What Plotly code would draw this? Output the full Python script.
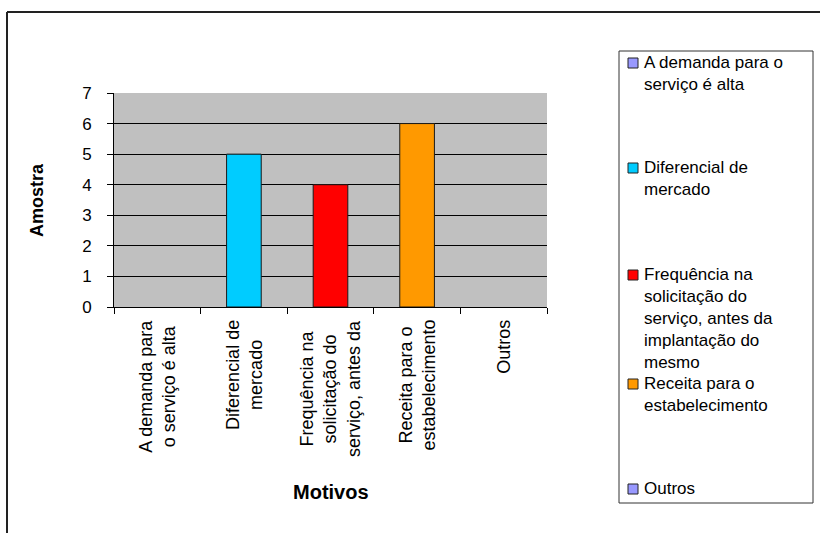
import plotly.graph_objects as go

# Survey answers: reasons and how many respondents chose each
categorias = [
    "A demanda para o serviço é alta",
    "Diferencial de mercado",
    "Frequência na solicitação do serviço, antes da implantação do mesmo",
    "Receita para o estabelecimento",
    "Outros",
]
amostra = [0, 5, 4, 6, 0]
cores = ["#9999FF", "#00CCFF", "#FF0000", "#FF9900", "#9999FF"]

# Wrapped text used under the axis and in the legend box
rotulos_eixo = [
    "A demanda para<br>o serviço é alta",
    "Diferencial de<br>mercado",
    "Frequência na<br>solicitação do<br>serviço, antes da",
    "Receita para o<br>estabelecimento",
    "Outros",
]
rotulos_legenda = [
    "A demanda para o<br>serviço é alta",
    "Diferencial de<br>mercado",
    "Frequência na<br>solicitação do<br>serviço, antes da<br>implantação do<br>mesmo",
    "Receita para o<br>estabelecimento",
    "Outros",
]
y_ticks = [0, 1, 2, 3, 4, 5, 6, 7]

W, H = 820, 533
FONT = "Liberation Sans, Arial, sans-serif"


def px(x):
    return x / W


def py(y):
    return 1 - y / H


# Outline only on bars that actually have height
contorno = [1 if v > 0 else 0 for v in amostra]

fig = go.Figure()
fig.add_trace(
    go.Bar(
        x=categorias,
        y=amostra,
        marker=dict(color=cores, line=dict(color="#1a1a1a", width=contorno)),
        width=0.4,
        showlegend=False,
        hoverinfo="x+y",
    )
)

annotations = []
# Category labels, rotated and centred line by line
for cat, lab in zip(categorias, rotulos_eixo):
    annotations.append(
        dict(
            x=cat, xref="x", y=py(318), yref="paper",
            text=lab, textangle=-90, showarrow=False,
            xanchor="center", yanchor="top", align="center",
            font=dict(family=FONT, size=18, color="#000"),
        )
    )

# Axis titles
annotations.append(
    dict(x=px(330.5), y=py(492), xref="paper", yref="paper", text="<b>Motivos</b>",
         showarrow=False, xanchor="center", yanchor="middle",
         font=dict(family=FONT, size=20, color="#000"))
)
annotations.append(
    dict(x=px(37), y=py(200), xref="paper", yref="paper", text="<b>Amostra</b>",
         showarrow=False, xanchor="center", yanchor="middle", textangle=-90,
         font=dict(family=FONT, size=18, color="#000"))
)

# Legend box drawn by hand: evenly spaced entries, top aligned
shapes = [
    dict(type="line", xref="paper", yref="paper", x0=px(7), x1=px(820), y0=py(12), y1=py(12),
         line=dict(color="#222", width=2)),
    dict(type="line", xref="paper", yref="paper", x0=px(7), x1=px(7), y0=py(12), y1=py(533),
         line=dict(color="#222", width=2)),
    dict(type="rect", xref="paper", yref="paper", x0=px(619), x1=px(813), y0=py(51), y1=py(503),
         line=dict(color="#333", width=1), fillcolor="rgba(0,0,0,0)"),
]
centros = [63, 168, 275, 384, 489]
for c, lab, cor in zip(centros, rotulos_legenda, cores):
    shapes.append(
        dict(type="rect", xref="paper", yref="paper", x0=px(628), x1=px(638),
             y0=py(c - 5), y1=py(c + 5), line=dict(color="#222", width=1), fillcolor=cor)
    )
    annotations.append(
        dict(x=px(642), y=py(c - 12), xref="paper", yref="paper", text=lab,
             showarrow=False, xanchor="left", yanchor="top", align="left",
             font=dict(family=FONT, size=17, color="#000"))
    )

fig.update_layout(
    width=W,
    height=H,
    margin=dict(l=0, r=0, t=0, b=0),
    paper_bgcolor="white",
    plot_bgcolor="#C0C0C0",
    annotations=annotations,
    shapes=shapes,
    xaxis=dict(
        domain=[px(114), px(547)],
        type="category",
        categoryorder="array",
        categoryarray=categorias,
        showticklabels=False,
        ticks="outside",
        tickson="boundaries",
        ticklen=6,
        tickcolor="#000",
        showline=True,
        linecolor="#000",
        linewidth=1,
        showgrid=False,
        automargin=False,
    ),
    yaxis=dict(
        domain=[py(307), py(93)],
        range=[0, 7],
        tickvals=y_ticks,
        ticks="outside",
        ticklen=6,
        tickcolor="#000",
        ticklabelstandoff=12,
        tickfont=dict(family=FONT, size=17, color="#000"),
        showline=True,
        linecolor="#000",
        linewidth=1,
        showgrid=True,
        gridcolor="#000",
        gridwidth=1,
        zeroline=False,
        automargin=False,
    ),
)

fig.write_html("out.html")
